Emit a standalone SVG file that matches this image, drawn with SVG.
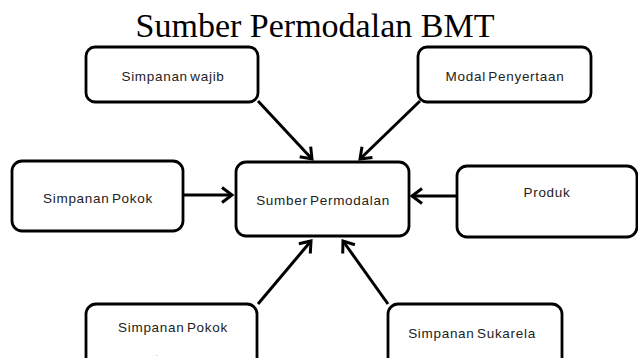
<svg xmlns="http://www.w3.org/2000/svg" width="638" height="358" viewBox="0 0 638 358">
  <style>
    .box { fill: #ffffff; stroke: #000000; stroke-width: 2.8; }
    .lbl { font-family: "Liberation Sans", Arial, sans-serif; font-size: 13.5px; letter-spacing: 0.7px; word-spacing: -2px; fill: #222222; text-anchor: middle; }
    .title { font-family: "Liberation Serif", "Times New Roman", serif; font-size: 34px; fill: #000000; text-anchor: middle; }
    .conn { stroke: #000000; stroke-width: 3; fill: none; marker-end: url(#arr); }
  </style>
  <defs>
    <marker id="arr" markerUnits="userSpaceOnUse" markerWidth="20" markerHeight="20" viewBox="-12 -10 14 20" refX="0" refY="0" orient="auto">
      <path d="M-10,-7.5 L0,0 L-10,7.5" fill="none" stroke="#000000" stroke-width="3" stroke-linejoin="miter"/>
    </marker>
  </defs>
  <rect width="638" height="358" fill="#ffffff"/>
  <text class="title" x="315" y="37">Sumber Permodalan BMT</text>

  <g id="connectors">
    <line class="conn" x1="258" y1="101" x2="312" y2="159"/>
    <line class="conn" x1="420" y1="101" x2="360" y2="159"/>
    <line class="conn" x1="183" y1="195" x2="232" y2="195"/>
    <line class="conn" x1="457" y1="196" x2="412" y2="196"/>
    <line class="conn" x1="258" y1="304" x2="311" y2="241"/>
    <line class="conn" x1="388" y1="304" x2="343" y2="241"/>
  </g>

  <g id="simpanan-wajib">
    <rect class="box" x="86" y="47" width="172" height="55" rx="9"/>
    <text class="lbl" x="173" y="81">Simpanan wajib</text>
  </g>
  <g id="modal-penyertaan">
    <rect class="box" x="418" y="47" width="173" height="55" rx="9"/>
    <text class="lbl" x="505" y="81">Modal Penyertaan</text>
  </g>
  <g id="simpanan-pokok-left">
    <rect class="box" x="12" y="161" width="171" height="70" rx="10"/>
    <text class="lbl" x="98" y="203">Simpanan Pokok</text>
  </g>
  <g id="sumber-permodalan">
    <rect class="box" x="236" y="162" width="173" height="74" rx="10"/>
    <text class="lbl" x="323" y="205">Sumber Permodalan</text>
  </g>
  <g id="produk">
    <rect class="box" x="457" y="166" width="180" height="71" rx="10"/>
    <text class="lbl" x="547" y="197">Produk</text>
  </g>
  <g id="simpanan-pokok-bottom">
    <rect class="box" x="86" y="304" width="171" height="70" rx="10"/>
    <text class="lbl" x="173" y="332">Simpanan Pokok</text>
    <text class="lbl" x="157" y="356" style="font-size:6px">.</text>
  </g>
  <g id="simpanan-sukarela">
    <rect class="box" x="388" y="304" width="174" height="70" rx="10"/>
    <text class="lbl" x="472" y="338">Simpanan Sukarela</text>
  </g>
</svg>
